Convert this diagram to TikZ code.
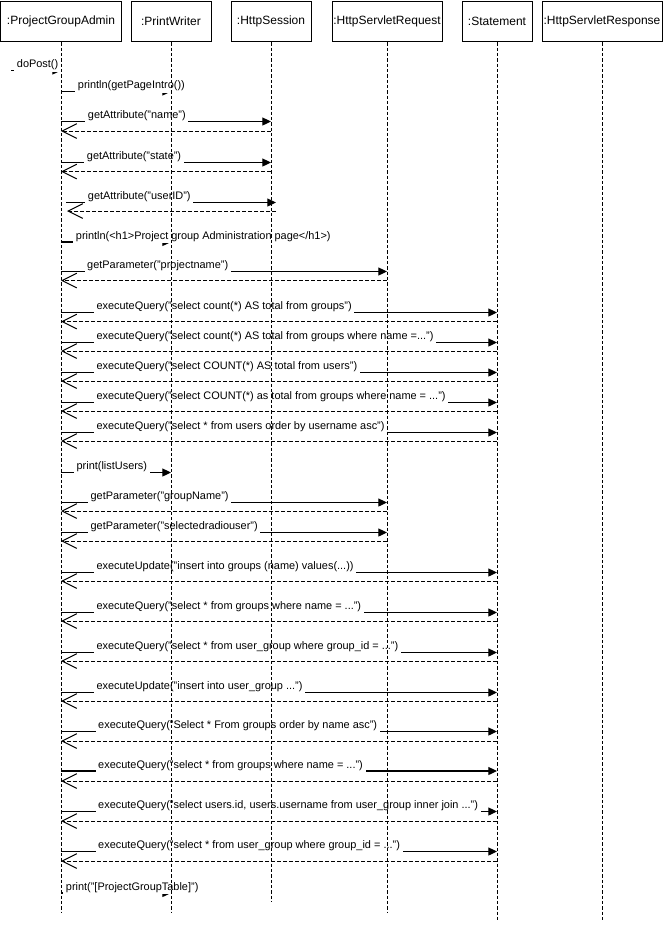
\documentclass[tikz,border=0pt]{standalone}
\usepackage{fontspec}
\setmainfont{Liberation Sans}
\usepackage{tikz}
\usetikzlibrary{arrows.meta}

\tikzset{
    objbox/.style={draw, line width=0.75pt, fill=white, minimum height=30pt, inner sep=0pt, font=\fontsize{9}{11}\selectfont},
    lifeline/.style={line width=0.75pt, dash pattern=on 2.5pt off 1.5pt},
    call/.style={line width=0.9pt, -{Triangle[length=6.5pt,width=6pt]}},
    ret/.style={line width=0.75pt, dash pattern=on 3pt off 1.5pt, -{Straight Barb[length=11pt,width=11pt,line width=0.75pt]}},
    msg/.style={anchor=base west, fill=white, inner xsep=2pt, inner ysep=1.5pt, font=\fontsize{8.2}{10}\selectfont},
}

\begin{document}
\begin{tikzpicture}[x=0.75pt,y=0.75pt,yscale=-1,xscale=1]
        \useasboundingbox (0,0) rectangle (663,926);

        %Shape: Rectangle (objects)
        \node [objbox, minimum width=90.75pt] (pga) at (61,21.7) {:ProjectGroupAdmin};
        \node [objbox, minimum width=60pt] (pw) at (171,21.7) {:PrintWriter};
        \node [objbox, minimum width=60pt] (hs) at (271,21.7) {:HttpSession};
        \node [objbox, minimum width=82.5pt] (hreq) at (387,21.7) {:HttpServletRequest};
        \node [objbox, minimum width=52.5pt] (stmt) at (497,21.7) {:Statement};
        \node [objbox, minimum width=90pt] (hresp) at (602,21.7) {:HttpServletResponse};

        % rows of the messages (c = call, b = back)
        \coordinate (c1) at (0,70.5);
        \coordinate (c2) at (0,91.5);
        \coordinate (c3) at (0,121.5);   \coordinate (b3) at (0,131);
        \coordinate (c4) at (0,162.5);   \coordinate (b4) at (0,171.5);
        \coordinate (c6) at (0,242);
        \coordinate (c7) at (0,271.5);   \coordinate (b7) at (0,280.5);
        \coordinate (c8) at (0,312.5);   \coordinate (b8) at (0,321.5);
        \coordinate (c9) at (0,342.5);   \coordinate (b9) at (0,351);
        \coordinate (c10) at (0,372.5);  \coordinate (b10) at (0,381);
        \coordinate (c11) at (0,402.5);  \coordinate (b11) at (0,411);
        \coordinate (c12) at (0,432.5);  \coordinate (b12) at (0,441);
        \coordinate (c13) at (0,472.5);
        \coordinate (c14) at (0,502.5);  \coordinate (b14) at (0,511);
        \coordinate (c15) at (0,532.5);  \coordinate (b15) at (0,541);
        \coordinate (c16) at (0,572.5);  \coordinate (b16) at (0,581);
        \coordinate (c17) at (0,612.5);  \coordinate (b17) at (0,621);
        \coordinate (c18) at (0,652.5);  \coordinate (b18) at (0,661);
        \coordinate (c19) at (0,692.5);  \coordinate (b19) at (0,701);
        \coordinate (c20) at (0,731.5);  \coordinate (b20) at (0,741);
        \coordinate (c21) at (0,771);    \coordinate (b21) at (0,781);
        \coordinate (c22) at (0,811.5);  \coordinate (b22) at (0,821);
        \coordinate (c23) at (0,851.5);  \coordinate (b23) at (0,861);
        \coordinate (c24) at (0,893);

        %Straight Lines (found message)
        \coordinate (in) at (11,70.5);
        \draw [call] (in) -- (pga |- c1);
        % Text Node
        \node [msg] (t1) at (14,67.5) {doPost()};

        %Straight Lines
        \draw [call] (pga |- c2) -- (pw |- c2);
        % Text Node
        \node [msg] (t2) at (75,88.5) {println(getPageIntro())};

        %Straight Lines
        \draw [call] (pga |- c3) -- (hs |- c3);
        \draw [ret] (hs |- b3) -- (pga |- b3);
        % Text Node
        \node [msg] (t3) at (85,118.5) {getAttribute("name")};

        %Straight Lines
        \draw [call] (pga |- c4) -- (hs |- c4);
        \draw [ret] (hs |- b4) -- (pga |- b4);
        % Text Node
        \node [msg] (t4) at (84,159.5) {getAttribute("state")};

        %Straight Lines (a little off the lifelines)
        \coordinate (uid1) at (66,202.5);
        \coordinate (uid2) at (276,202.5);
        \coordinate (uid3) at (276,211);
        \coordinate (uid4) at (67,211);
        \draw [call] (uid1) -- (uid2);
        \draw [ret] (uid3) -- (uid4);
        % Text Node
        \node [msg] (t5) at (85,199.5) {getAttribute("userID")};

        %Straight Lines
        \draw [call] (pga |- c6) -- (pw |- c6);
        % Text Node
        \node [msg] (t6) at (73,239) {println(<h1>Project group Administration page</h1>)};

        %Straight Lines
        \draw [call] (pga |- c7) -- (hreq |- c7);
        \draw [ret] (hreq |- b7) -- (pga |- b7);
        % Text Node
        \node [msg] (t7) at (84.3,268.5) {getParameter("projectname")};

        %Straight Lines
        \draw [call] (pga |- c8) -- (stmt |- c8);
        \draw [ret] (stmt |- b8) -- (pga |- b8);
        % Text Node
        \node [msg] (t8) at (93.6,309.5) {executeQuery("select count(*) AS total from groups")};

        %Straight Lines
        \draw [call] (pga |- c9) -- (stmt |- c9);
        \draw [ret] (stmt |- b9) -- (pga |- b9);
        % Text Node
        \node [msg] (t9) at (93.6,339.5) {executeQuery("select count(*) AS total from groups where name =...")};

        %Straight Lines
        \draw [call] (pga |- c10) -- (stmt |- c10);
        \draw [ret] (stmt |- b10) -- (pga |- b10);
        % Text Node
        \node [msg] (t10) at (93.6,369.5) {executeQuery("select COUNT(*) AS total from users")};

        %Straight Lines
        \draw [call] (pga |- c11) -- (stmt |- c11);
        \draw [ret] (stmt |- b11) -- (pga |- b11);
        % Text Node
        \node [msg] (t11) at (93.6,399.5) {executeQuery("select COUNT(*) as total from groups where name = ...")};

        %Straight Lines
        \draw [call] (pga |- c12) -- (stmt |- c12);
        \draw [ret] (stmt |- b12) -- (pga |- b12);
        % Text Node
        \node [msg] (t12) at (93.6,429.5) {executeQuery("select * from users order by username asc")};

        %Straight Lines
        \draw [call] (pga |- c13) -- (pw |- c13);
        % Text Node
        \node [msg] (t13) at (73.7,469.5) {print(listUsers)};

        %Straight Lines
        \draw [call] (pga |- c14) -- (hreq |- c14);
        \draw [ret] (hreq |- b14) -- (pga |- b14);
        % Text Node
        \node [msg] (t14) at (87.7,499.5) {getParameter("groupName")};

        %Straight Lines
        \draw [call] (pga |- c15) -- (hreq |- c15);
        \draw [ret] (hreq |- b15) -- (pga |- b15);
        % Text Node
        \node [msg] (t15) at (87.7,529.5) {getParameter("selectedradiouser")};

        %Straight Lines
        \draw [call] (pga |- c16) -- (stmt |- c16);
        \draw [ret] (stmt |- b16) -- (pga |- b16);
        % Text Node
        \node [msg] (t16) at (93.6,569.5) {executeUpdate("insert into groups (name) values(...))};

        %Straight Lines
        \draw [call] (pga |- c17) -- (stmt |- c17);
        \draw [ret] (stmt |- b17) -- (pga |- b17);
        % Text Node
        \node [msg] (t17) at (93.6,609.5) {executeQuery("select * from groups where name = ...")};

        %Straight Lines
        \draw [call] (pga |- c18) -- (stmt |- c18);
        \draw [ret] (stmt |- b18) -- (pga |- b18);
        % Text Node
        \node [msg] (t18) at (93.6,649.5) {executeQuery("select * from user\_group where group\_id = ...")};

        %Straight Lines
        \draw [call] (pga |- c19) -- (stmt |- c19);
        \draw [ret] (stmt |- b19) -- (pga |- b19);
        % Text Node
        \node [msg] (t19) at (93.6,689.5) {executeUpdate("insert into user\_group ...")};

        %Straight Lines
        \draw [call] (pga |- c20) -- (stmt |- c20);
        \draw [ret] (stmt |- b20) -- (pga |- b20);
        % Text Node
        \node [msg] (t20) at (95.3,728.5) {executeQuery("Select * From groups order by name asc")};

        %Straight Lines
        \draw [call] (pga |- c21) -- (stmt |- c21);
        \draw [ret] (stmt |- b21) -- (pga |- b21);
        % Text Node
        \node [msg] (t21) at (95.3,768) {executeQuery("select * from groups where name = ...")};

        %Straight Lines
        \draw [call] (pga |- c22) -- (stmt |- c22);
        \draw [ret] (stmt |- b22) -- (pga |- b22);
        % Text Node
        \node [msg] (t22) at (95.3,808.5) {executeQuery("select users.id, users.username from user\_group inner join ...")};

        %Straight Lines
        \draw [call] (pga |- c23) -- (stmt |- c23);
        \draw [ret] (stmt |- b23) -- (pga |- b23);
        % Text Node
        \node [msg] (t23) at (95.3,848.5) {executeQuery("select * from user\_group where group\_id = ...")};

        %Straight Lines
        \draw [call] (pga |- c24) -- (pw |- c24);
        % Text Node
        \node [msg] (t24) at (63,890) {print("[ProjectGroupTable]")};

        % lifelines, drawn last so that they run through the labels
        \coordinate (pgaend) at (61,911.7);
        \coordinate (pwend) at (171,911.7);
        \coordinate (hsend) at (271,901.7);
        \coordinate (hreqend) at (387,911.7);
        \coordinate (stmtend) at (497,921);
        \coordinate (hrespend) at (602,921);
        \draw [lifeline] (pga.south) -- (pgaend);
        \draw [lifeline] (pw.south) -- (pwend);
        \draw [lifeline] (hs.south) -- (hsend);
        \draw [lifeline] (hreq.south) -- (hreqend);
        \draw [lifeline] (stmt.south) -- (stmtend);
        \draw [lifeline] (hresp.south) -- (hrespend);

\end{tikzpicture}
\end{document}
